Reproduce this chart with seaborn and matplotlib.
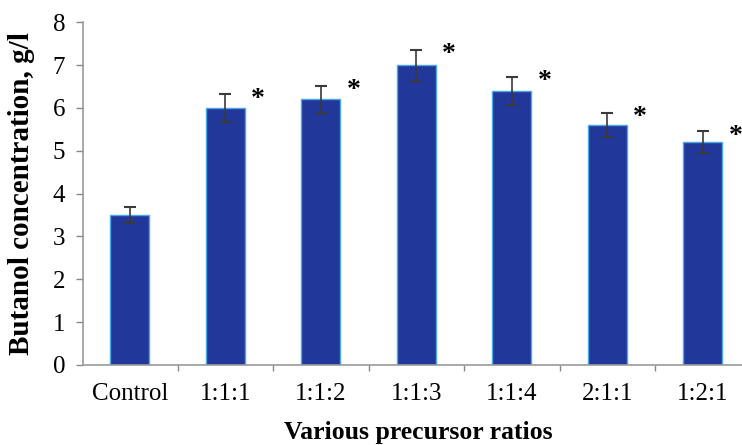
import matplotlib
matplotlib.use("Agg")
import matplotlib.pyplot as plt
import seaborn as sns
import pandas as pd
import numpy as np
from matplotlib.ticker import FixedLocator

categories = ["Control", "1:1:1", "1:1:2", "1:1:3", "1:1:4", "2:1:1", "1:2:1"]
values = [3.5, 6.0, 6.2, 7.0, 6.4, 5.6, 5.2]
errors = [0.18, 0.32, 0.32, 0.36, 0.33, 0.29, 0.26]
significant = ["", "*", "*", "*", "*", "*", "*"]

sns.set_theme(style="white")
plt.rcParams['font.family'] = ['Liberation Serif', 'DejaVu Serif']
plt.rcParams['text.color'] = 'black'
plt.rcParams['axes.labelcolor'] = 'black'
plt.rcParams['xtick.labelcolor'] = 'black'
plt.rcParams['ytick.labelcolor'] = 'black'

df = pd.DataFrame({"ratio": categories, "conc": values})

fig = plt.figure(figsize=(7.42, 4.45), dpi=100)
ax = fig.add_axes([0.112, 0.18, 0.888, 0.77])

sns.barplot(data=df, x="ratio", y="conc", order=categories, color="#22379a",
            saturation=1, width=0.41, edgecolor="#4aa8e8", linewidth=1.0,
            errorbar=None, ax=ax)

x = np.arange(len(categories))
ax.errorbar(x, values, yerr=errors, fmt="none", ecolor="#3a3a3a",
            elinewidth=1.2, capsize=4.5, capthick=1.5, zorder=3)

for xi, v, e, s in zip(x, values, errors, significant):
    if s:
        ax.text(xi + 0.34, v + e - 0.12, s, ha="center", va="center",
                fontsize=20, fontweight="bold", color="black")

ax.set_ylim(0, 8)
ax.set_xlim(-0.49, 6.41)
ax.set_yticks(range(0, 9))
ax.tick_params(axis="y", labelsize=18, length=5, width=1, color="#888888",
               labelcolor="black", direction="out", left=True, pad=8)
ax.tick_params(axis="x", which="major", length=0, labelsize=18, pad=13,
               labelcolor="black")
ax.xaxis.set_minor_locator(FixedLocator(np.arange(-0.5, 6.5, 1.0)))
ax.tick_params(axis="x", which="minor", length=4, width=1, color="#888888",
               direction="out", bottom=True)

for side in ["top", "right"]:
    ax.spines[side].set_visible(False)
for side in ["left", "bottom"]:
    ax.spines[side].set_color("#999999")
    ax.spines[side].set_linewidth(1.2)

ax.set_xlabel("Various precursor ratios", fontsize=18.5, fontweight="bold", color="black")
ax.set_ylabel("Butanol concentration, g/l", fontsize=21, fontweight="bold", color="black")
ax.xaxis.set_label_coords(0.508, -0.163)
ax.yaxis.set_label_coords(-0.073, 0.5)

fig.savefig("out.png", dpi=100)
